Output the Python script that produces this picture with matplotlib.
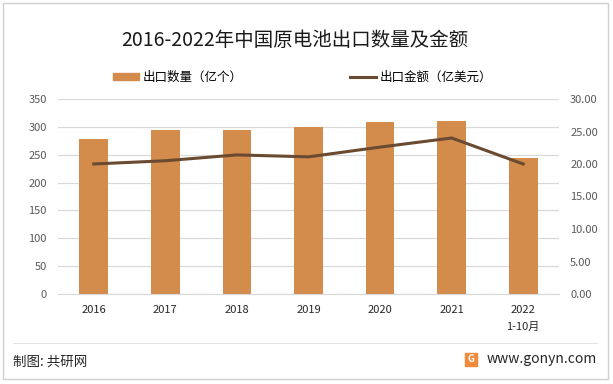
import numpy as np
import matplotlib.pyplot as plt
from matplotlib.patches import Rectangle, Patch
from matplotlib.lines import Line2D

plt.rcParams['font.family'] = ['Noto Sans CJK SC', 'DejaVu Sans']

years = ['2016', '2017', '2018', '2019', '2020', '2021', '2022\n1-10月']
qty = [279, 295, 295, 299, 309, 311, 245]        # 出口数量（亿个）
amount = [20.0, 20.5, 21.4, 21.1, 22.6, 24.0, 20.0]  # 出口金额（亿美元）

bar_color = '#D48C4D'
line_color = '#6A4A30'

fig = plt.figure(figsize=(6.13, 3.84), dpi=100)
ax = fig.add_axes([58 / 613, 1 - 294 / 384, 501 / 613, 195 / 384])
ax2 = ax.twinx()

x = np.arange(len(years))
ax.bar(x, qty, width=0.4, color=bar_color, zorder=2)
ax2.plot(x, amount, color=line_color, lw=2.2, zorder=3)

ax.set_xlim(-0.5, len(years) - 0.5)
ax.set_ylim(0, 350)
ax.set_yticks(range(0, 351, 50))
ax2.set_ylim(0, 30)
ax2.set_yticks(np.arange(0, 30.1, 5))
ax2.set_yticklabels(['%.2f' % v for v in np.arange(0, 30.1, 5)])
ax.set_xticks(x)
ax.set_xticklabels(years, linespacing=1.9)

ax.grid(axis='y', color='#D9D9D9', lw=0.9, zorder=0)
ax.set_axisbelow(True)
for a in (ax, ax2):
    for s in a.spines.values():
        s.set_visible(False)
ax.spines['bottom'].set_visible(True)
ax.spines['bottom'].set_color('#D9D9D9')
ax.tick_params(axis='y', length=0, labelsize=8, colors='#595959', pad=8)
ax2.tick_params(axis='y', length=0, labelsize=8, colors='#595959', pad=8)
ax.tick_params(axis='x', length=0, labelsize=8, colors='#262626', pad=8)

fig.text(295 / 613, 1 - 41 / 384, '2016-2022年中国原电池出口数量及金额',
         ha='center', va='center', fontsize=14, color='#1A1A1A')

handles = [Patch(color=bar_color), Line2D([], [], color=line_color, lw=2.2)]
leg = fig.legend(handles, ['出口数量（亿个）', '出口金额（亿美元）'],
                 loc='center left', bbox_to_anchor=(113 / 613, 1 - 77 / 384),
                 ncol=2, frameon=False, fontsize=9, columnspacing=8.6,
                 handlelength=2.1, handleheight=0.5, handletextpad=0.25,
                 borderpad=0, borderaxespad=0)

# footer
fig.add_artist(Line2D([13 / 613, 597 / 613], [1 - 343 / 384, 1 - 343 / 384],
                      color='#E3E3E3', lw=0.8))
fig.text(13 / 613, 1 - 362 / 384, '制图: 共研网', ha='left', va='center',
         fontsize=9.7, color='#262626')
fig.text(597 / 613, 1 - 359 / 384, 'www.gonyn.com', ha='right', va='center',
         fontsize=10, color='#262626')
fig.add_artist(Rectangle((465 / 613, 1 - 366 / 384), 12 / 613, 13 / 384,
                         color='#F08A3C', transform=fig.transFigure))
fig.text(471 / 613, 1 - 359.5 / 384, 'G', ha='center', va='center',
         fontsize=7, color='white', weight='bold')

# outer frame
fig.add_artist(Rectangle((3 / 613, 5 / 384), 605 / 613, 376 / 384, fill=False,
                         edgecolor='#D0D0D0', lw=1, transform=fig.transFigure))

fig.savefig('out.png', dpi=100)
